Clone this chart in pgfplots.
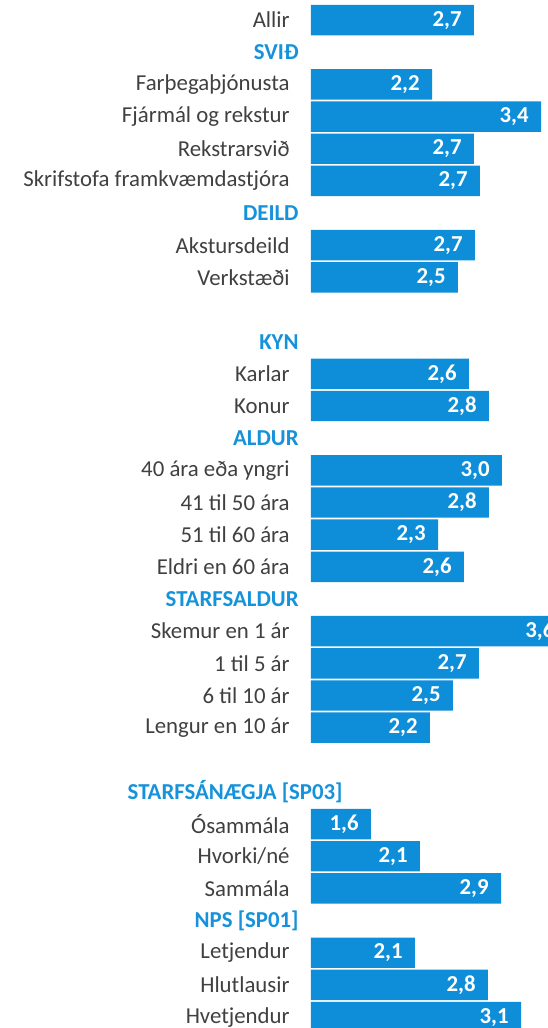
\documentclass[border=0pt]{standalone}
\usepackage{fontspec}
\setmainfont{Carlito}
\usepackage{pgfplots}
\usepackage{pgfplotstable}
\pgfplotsset{compat=1.18}
\definecolor{barblue}{RGB}{14,142,216}
\definecolor{hdrblue}{RGB}{22,146,218}
\definecolor{lblgray}{RGB}{64,64,64}
\newcommand\hdr[2][4.5pt]{\textcolor{hdrblue}{\bfseries #2}\hspace*{-#1}}

\pgfplotstableread{
x y lab
2.663 0 2,7
2.235 2 2,2
3.347 3 3,4
2.663 4 2,7
2.724 5 2,7
2.673 7 2,7
2.500 8 2,5
2.612 11 2,6
2.816 12 2,8
2.949 14 3,0
2.816 15 2,8
2.296 16 2,3
2.561 17 2,6
3.610 19 3,6
2.714 20 2,7
2.449 21 2,5
2.214 22 2,2
1.612 25 1,6
2.112 26 2,1
2.939 27 2,9
2.061 29 2,1
2.806 30 2,8
3.143 31 3,1
}\data

\begin{document}
\begin{tikzpicture}
\begin{axis}[
  scale only axis,
  width=132.3pt, height=514pt,
  xbar, bar width=15.2pt,
  xmin=1, xmax=3.7,
  ymin=-0.624, ymax=31.34,
  y dir=reverse,
  axis line style={draw=none},
  tick style={draw=none},
  major tick length=0pt,
  xtick=\empty,
  ytick={0,...,31},
  yticklabels={
    {Allir},{\hdr{SVIÐ}},{Farþegaþjónusta},{Fjármál og rekstur},{Rekstrarsvið},
    {Skrifstofa framkvæmdastjóra},{\hdr{DEILD}},{Akstursdeild},{Verkstæði},{},
    {\hdr{KYN}},{Karlar},{Konur},{\hdr{ALDUR}},{40 ára eða yngri},{41 til 50 ára},
    {51 til 60 ára},{Eldri en 60 ára},{\hdr{STARFSALDUR}},{Skemur en 1 ár},
    {1 til 5 ár},{6 til 10 ár},{Lengur en 10 ár},{},{\hdr[26.5pt]{STARFSÁNÆGJA [SP03]}},
    {Ósammála},{Hvorki/né},{Sammála},{\hdr{NPS [SP01]}},{Letjendur},{Hlutlausir},{Hvetjendur}},
  yticklabel style={font=\fontsize{11.4}{13}\selectfont, text=lblgray, inner sep=0pt, anchor=east, xshift=-10.5pt},
  nodes near coords,
  point meta=explicit symbolic,
  every node near coord/.append style={anchor=east, xshift=-6pt, font=\fontsize{11.4}{13}\selectfont\bfseries, text=white, inner sep=0pt},
]
\addplot[fill=barblue, draw=none] table[x=x, y=y, meta=lab]{\data};
\end{axis}
\pgfresetboundingbox
\useasboundingbox ([xshift=-155.5pt]current axis.south west) rectangle ([xshift=118pt]current axis.north west);
\end{tikzpicture}
\end{document}
